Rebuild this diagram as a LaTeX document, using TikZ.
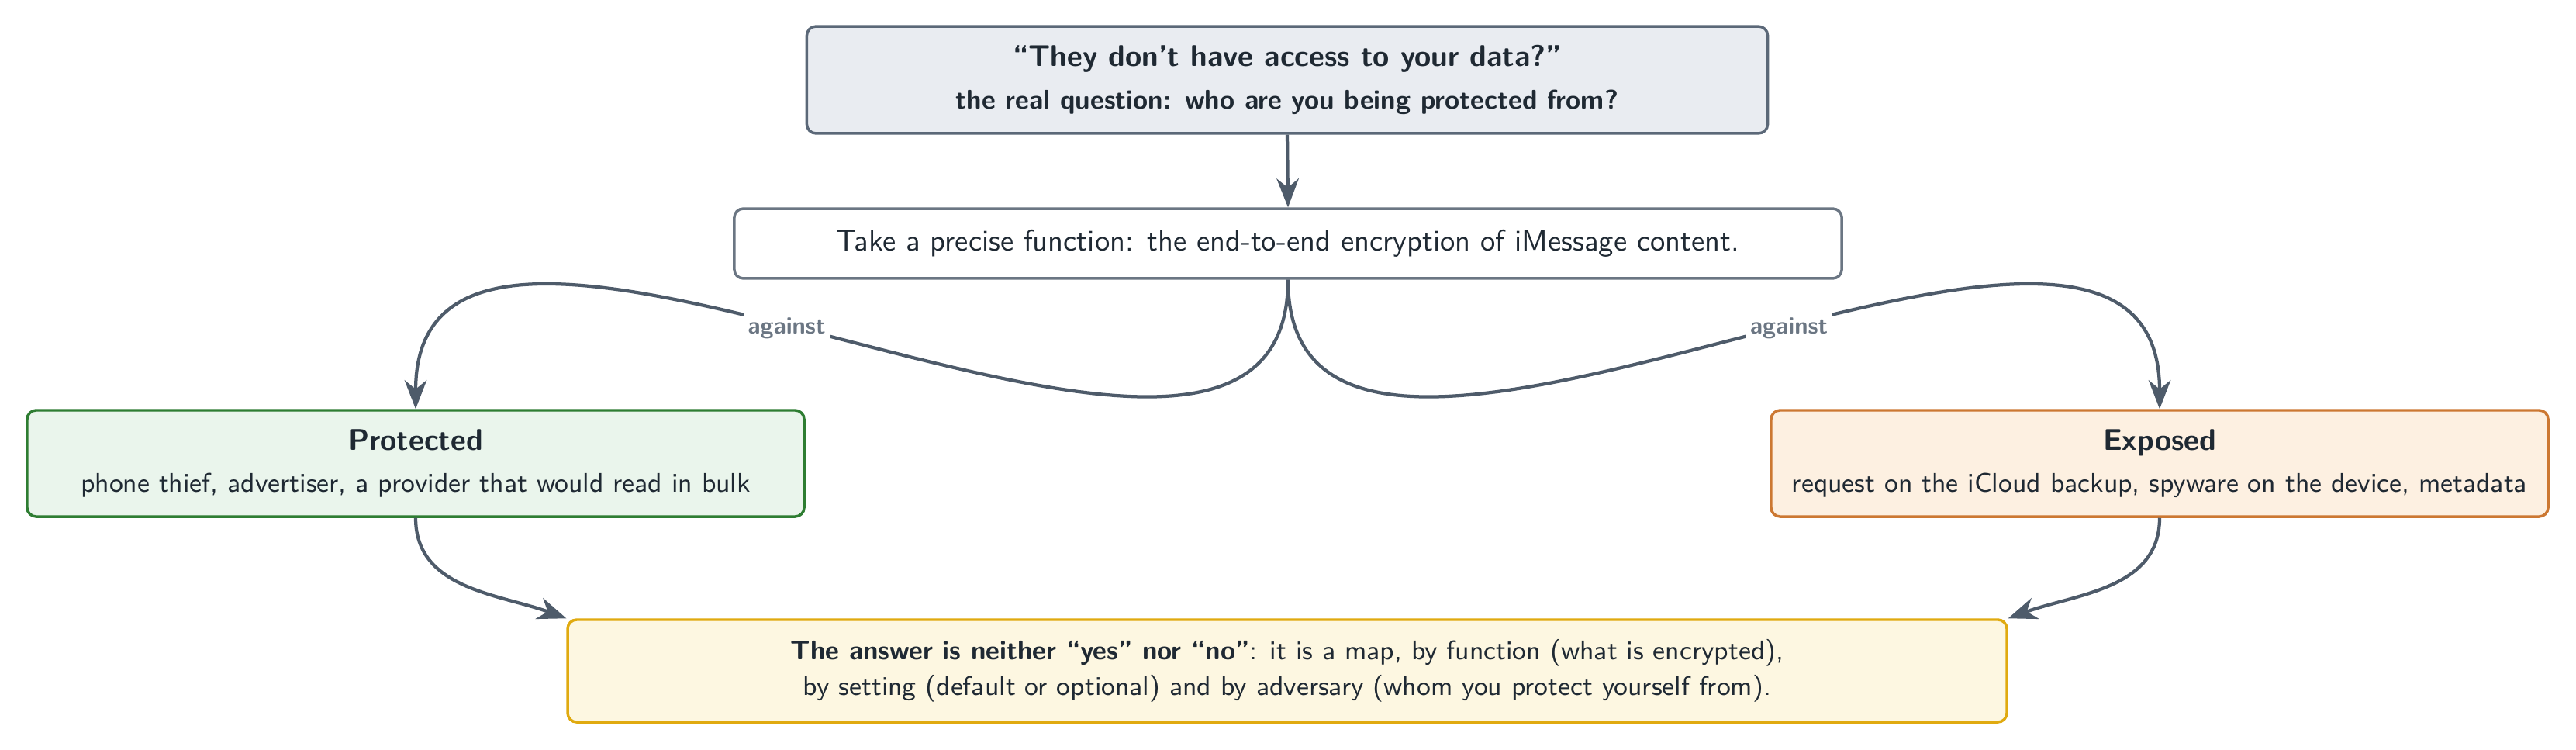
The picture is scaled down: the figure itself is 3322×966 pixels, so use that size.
\documentclass[tikz,border=0pt]{standalone}
\usetikzlibrary{arrows.meta}
\renewcommand{\familydefault}{\sfdefault}
\definecolor{ink}{HTML}{1F2933}
\definecolor{topfill}{HTML}{E9ECF1}
\definecolor{topdraw}{HTML}{5B6878}
\definecolor{middraw}{HTML}{6B7683}
\definecolor{profill}{HTML}{EAF5EC}
\definecolor{prodraw}{HTML}{2E7D32}
\definecolor{expfill}{HTML}{FDF0E1}
\definecolor{expdraw}{HTML}{CC7832}
\definecolor{ansfill}{HTML}{FDF7E1}
\definecolor{ansdraw}{HTML}{E0AA10}
\definecolor{arrowc}{HTML}{4E5B6A}
\definecolor{labc}{HTML}{6B7683}
\begin{document}
\begin{tikzpicture}[x=0.25907pt,y=-0.25907pt,
  box/.style={draw, rounded corners=3pt, line width=0.9pt, align=center, inner sep=0pt, text=ink, font=\normalsize},
  conn/.style={draw=arrowc, line width=1.1pt, -{Stealth[length=9.6pt,width=7.4pt,inset=3pt]}},
  lab/.style={fill=white, text=labc, font=\footnotesize\bfseries, inner sep=1.5pt}]
\useasboundingbox (0,0) rectangle (3322,966);
\node[box, fill=topfill, draw=topdraw, minimum width=321pt, minimum height=35.7pt] (q) at (1660,103)
  {\textbf{“They don’t have access to your data?”}\\[2.2pt]{\small\bfseries the real question: who are you being protected from?}};
\node[box, fill=white, draw=middraw, minimum width=370pt, minimum height=23.3pt] (f) at (1661,314)
  {Take a precise function: the end-to-end encryption of iMessage content.};
\node[box, fill=profill, draw=prodraw, minimum width=259.6pt, minimum height=35.5pt] (p) at (536,597.5)
  {\textbf{Protected}\\[2pt]{\small phone thief, advertiser, a provider that would read in bulk}};
\node[box, fill=expfill, draw=expdraw, minimum width=259.6pt, minimum height=35.5pt] (e) at (2785,597.5)
  {\textbf{Exposed}\\[2pt]{\small request on the iCloud backup, spyware on the device, metadata}};
\node[box, fill=ansfill, draw=ansdraw, minimum width=480.8pt, minimum height=34.2pt, font=\small] (b) at (1660,865)
  {\textbf{The answer is neither “yes” nor “no”}: it is a map, by function (what is encrypted),\\[1pt]by setting (default or optional) and by adversary (whom you protect yourself from).};
\draw[conn] (q.south) -- (f.north);
\draw[conn] (f.south) .. controls +(0,445) and +(0,-445) .. (p.north) node[lab,pos=0.55] {against};
\draw[conn] (f.south) .. controls +(0,445) and +(0,-445) .. (e.north) node[lab,pos=0.55] {against};
\draw[conn] (p.south) .. controls +(0,92) and +(-86.5,-31.5) .. (b.north west);
\draw[conn] (e.south) .. controls +(0,92) and +(86.5,-31.5) .. (b.north east);
\end{tikzpicture}
\end{document}
